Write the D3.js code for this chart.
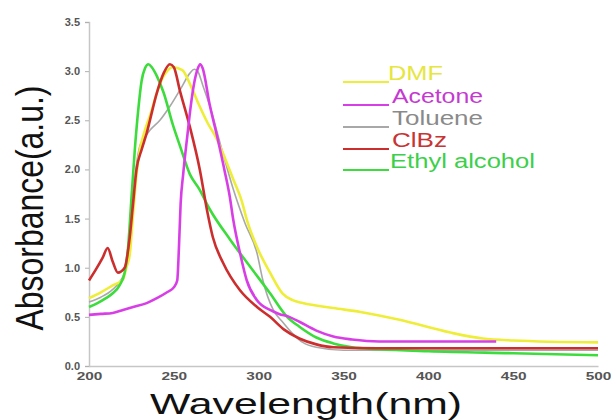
<!DOCTYPE html>
<html>
<head>
<meta charset="utf-8">
<script src="https://cdn.jsdelivr.net/npm/d3@7"></script>
<style>
  body { margin: 0; background: #fff; }
  svg { display: block; font-family: "Liberation Sans", Arial, sans-serif; }
</style>
</head>
<body>
<div id="chart"></div>
<script>
// tick values
var xTicks = [200, 250, 300, 350, 400, 450, 500];
var yTicks = [0, 0.5, 1, 1.5, 2, 2.5, 3, 3.5];

// spectra: [wavelength nm, absorbance]
var dmf = [[200,0.69],[207,0.75],[214,0.82],[220,0.88],[222,1.0],[224,1.13],[226,1.55],[228,1.95],[230,2.2],[233,2.4],[236,2.55],[242,2.88],[246,3.0],[249.5,3.04],[255,3.01],[260,2.85],[265,2.65],[270,2.47],[275,2.32],[280,2.12],[285,1.9],[290,1.68],[293,1.49],[299,1.21],[306.7,0.95],[314,0.74],[320,0.67],[326,0.64],[344,0.59],[360,0.55],[383,0.47],[413,0.34],[432,0.28],[450,0.26],[500,0.24]];
var acetone = [[200,0.52],[207,0.53],[214,0.54],[220,0.57],[226,0.6],[234,0.64],[240,0.69],[246,0.75],[250,0.8],[252,0.87],[253,1.2],[254,1.65],[255.5,1.95],[258,2.35],[260,2.65],[262,2.88],[264,3.02],[265.5,3.07],[267,3.03],[271,2.67],[276,2.3],[280,1.98],[283,1.72],[285,1.49],[289,1.15],[293,0.87],[299,0.67],[306.7,0.57],[312,0.53],[318,0.5],[324,0.45],[334,0.36],[344,0.3],[355,0.27],[371,0.25],[400,0.25],[440,0.25]];
var toluene = [[200,0.65],[207,0.7],[214,0.78],[219,0.88],[222,1.0],[224,1.3],[226,1.7],[228,2.05],[230,2.24],[232,2.3],[236,2.4],[241.8,2.5],[248,2.65],[254,2.82],[259.5,2.98],[262,3.02],[264,3.0],[267,2.86],[272,2.6],[278,2.22],[285,1.8],[292,1.45],[299,1.15],[302.5,0.87],[308.6,0.57],[314,0.45],[320,0.33],[326,0.24],[334,0.19],[350,0.16],[400,0.16],[450,0.16],[500,0.16]];
var clbz = [[200,0.87],[204,0.98],[208,1.1],[211,1.2],[214,1.06],[217,0.95],[221,1.0],[224,1.31],[226,1.66],[228,2.0],[231,2.2],[234,2.37],[240,2.78],[244,2.98],[247.7,3.07],[250,3.04],[253.6,2.8],[259.5,2.43],[265.4,1.99],[269.5,1.59],[273,1.31],[279,1.05],[289,0.77],[299,0.6],[306.7,0.5],[315,0.37],[324,0.28],[334,0.22],[344,0.19],[370,0.18],[400,0.18],[450,0.18],[500,0.18]];
var ethanol = [[200,0.6],[205,0.64],[210,0.69],[214,0.74],[218,0.82],[221,0.95],[223,1.2],[225,1.7],[227,2.2],[229,2.6],[231,2.9],[233,3.03],[235,3.07],[237,3.04],[240,2.95],[244,2.78],[249.5,2.45],[254,2.22],[259.5,1.95],[265,1.8],[271,1.6],[283,1.29],[295,1.01],[306.7,0.74],[316.7,0.5],[324,0.4],[334,0.29],[344,0.23],[355,0.19],[371,0.17],[400,0.15],[450,0.13],[500,0.11]];

var seriesNames = ["DMF", "Acetone", "Toluene", "ClBz", "Ethyl alcohol"];
var seriesData = [dmf, acetone, toluene, clbz, ethanol];
var lineColors = ["#eeee38", "#d83ee6", "#a8a8a8", "#cc2e2e", "#3ddc3d"];
var textColors = ["#e6e640", "#c43ad0", "#8a8a8a", "#c83434", "#3cd04a"];
var drawOrder = [2, 0, 4, 3, 1];

var W = 611, H = 420;
var margin = {top: 22, right: 13, bottom: 54, left: 89};

var svg = d3.select("#chart").append("svg")
  .attr("width", W)
  .attr("height", H);

var x = d3.scaleLinear().domain([200, 500]).range([margin.left, W - margin.right]);
var y = d3.scaleLinear().domain([0, 3.5]).range([H - margin.bottom, margin.top]);

// axes
var xAxis = svg.append("g")
  .attr("transform", "translate(0," + (H - margin.bottom) + ")")
  .call(d3.axisBottom(x).tickValues(xTicks).tickSize(0).tickPadding(6).tickFormat(d3.format("d")));
var yAxis = svg.append("g")
  .attr("transform", "translate(" + margin.left + ",0)")
  .call(d3.axisLeft(y).tickValues(yTicks).tickSize(4).tickPadding(5).tickFormat(d3.format(".1f")));

[xAxis, yAxis].forEach(function(g) {
  g.select(".domain").attr("stroke", "#c6c6c6").attr("stroke-width", 1.5);
  g.selectAll(".tick line").attr("stroke", "#b0b0b0");
  g.selectAll(".tick text")
    .attr("fill", "#555")
    .style("font-family", "'Liberation Sans', Arial, sans-serif")
    .style("font-weight", "bold")
    .style("font-size", "11px");
});
xAxis.selectAll(".tick text").attr("transform", "scale(1.4,1)");

// curves
var line = d3.line()
  .x(function(d) { return x(d[0]); })
  .y(function(d) { return y(d[1]); })
  .curve(d3.curveMonotoneX);

drawOrder.forEach(function(i) {
  svg.append("path")
    .datum(seriesData[i])
    .attr("fill", "none")
    .attr("stroke", lineColors[i])
    .attr("stroke-width", i === 2 ? 1.6 : 2.6)
    .attr("stroke-linejoin", "round")
    .attr("d", line);
});

// legend
var legBase = [80, 103, 125, 147, 168];
var legTextX = [388, 392, 392, 392, 390];
var legWidth = [55, 91, 91, 55, 145];
var legend = svg.append("g");
seriesNames.forEach(function(name, i) {
  legend.append("line")
    .attr("x1", 343).attr("x2", 389)
    .attr("y1", legBase[i] + 2).attr("y2", legBase[i] + 2)
    .attr("stroke", lineColors[i])
    .attr("stroke-width", 2.2);
  legend.append("text")
    .attr("x", legTextX[i])
    .attr("y", legBase[i])
    .attr("fill", textColors[i])
    .attr("textLength", legWidth[i])
    .attr("lengthAdjust", "spacingAndGlyphs")
    .style("font-size", "19.5px")
    .text(name);
});

// axis titles
svg.append("text")
  .attr("x", 306)
  .attr("y", 414)
  .attr("text-anchor", "middle")
  .attr("textLength", 312)
  .attr("lengthAdjust", "spacingAndGlyphs")
  .attr("fill", "#111")
  .style("font-size", "29px")
  .text("Wavelength(nm)");

svg.append("text")
  .attr("transform", "translate(43,208) scale(1.22,1) rotate(-90)")
  .attr("text-anchor", "middle")
  .attr("textLength", 245)
  .attr("lengthAdjust", "spacingAndGlyphs")
  .attr("fill", "#111")
  .style("font-size", "32px")
  .text("Absorbance(a.u.)");
</script>
</body>
</html>
